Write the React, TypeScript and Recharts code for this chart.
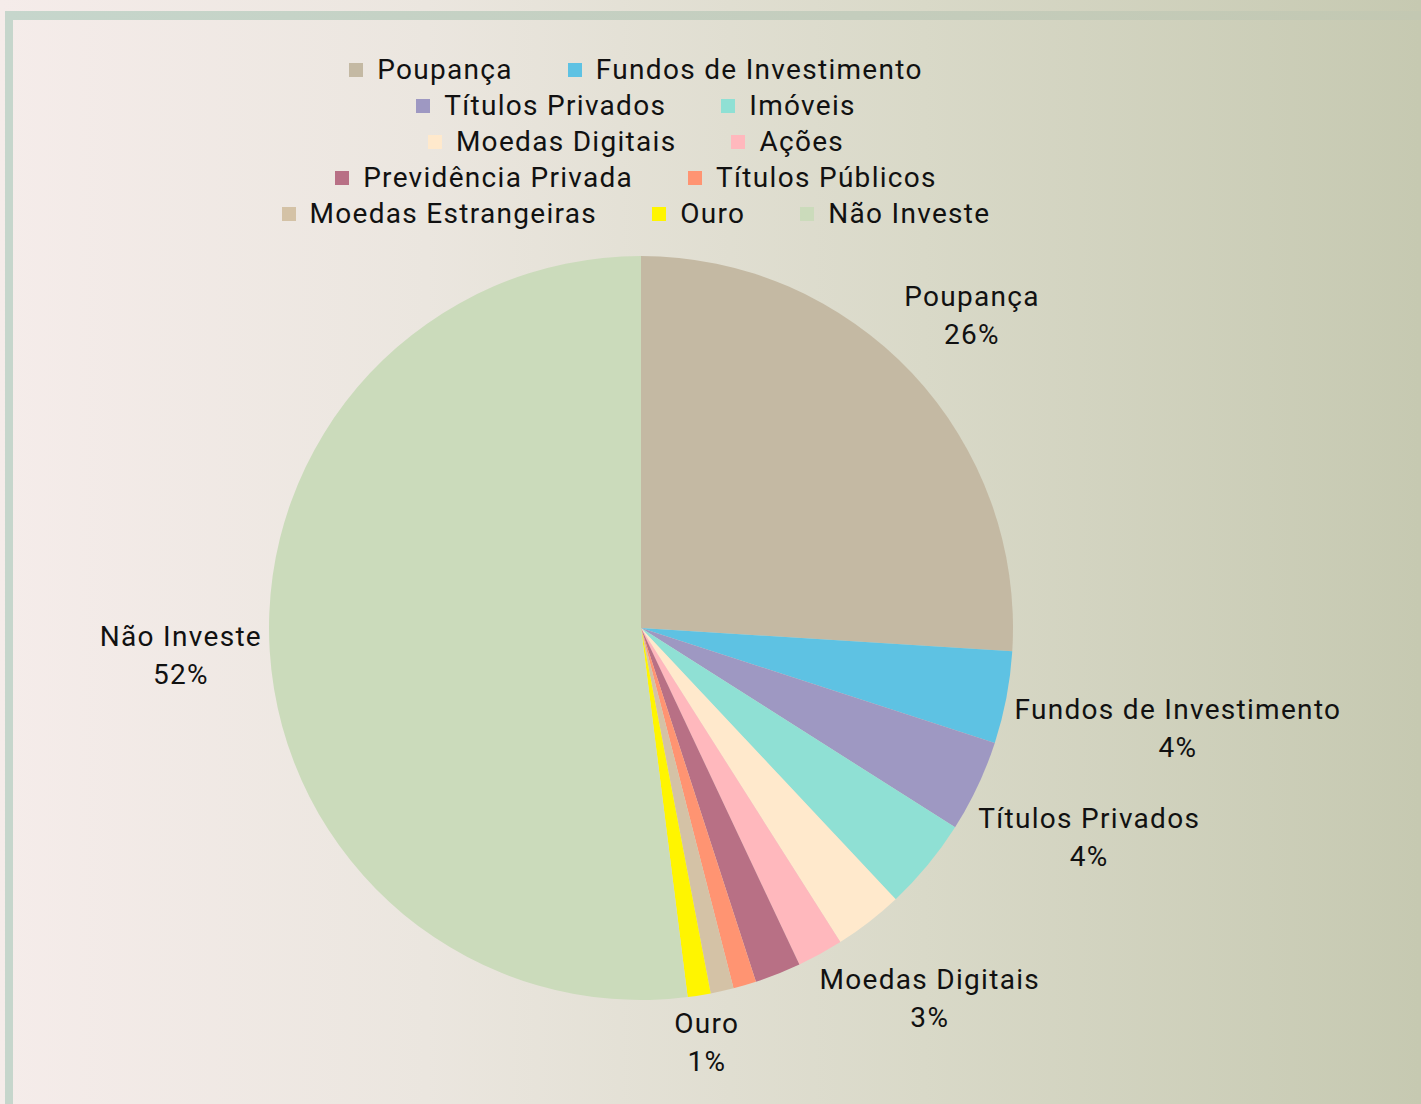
import { Legend, Pie, PieChart, Cell } from "recharts"

const categories = [
  "Poupança",
  "Fundos de Investimento",
  "Títulos Privados",
  "Imóveis",
  "Moedas Digitais",
  "Ações",
  "Previdência Privada",
  "Títulos Públicos",
  "Moedas Estrangeiras",
  "Ouro",
  "Não Investe",
]

const shares = [26, 4, 4, 4, 3, 2, 2, 1, 1, 1, 52]

const colors = [
  "#c4b9a3",
  "#5ec2e3",
  "#9e98c2",
  "#8fe0d4",
  "#ffe9cc",
  "#ffb8bd",
  "#b87085",
  "#ff9472",
  "#d4c2a6",
  "#fff500",
  "#cbdbbb",
]

// only these slices carry a data label in the original
const labelled = ["Poupança", "Fundos de Investimento", "Títulos Privados", "Moedas Digitais", "Ouro", "Não Investe"]

const data = categories.map((name, i) => ({ name, value: shares[i] }))

const FONT = "Roboto, 'Noto Sans', sans-serif"
const FONT_SIZE = 28
const SPACING = 1.3
const LINE = 38

let ctx: CanvasRenderingContext2D | null = null
function textWidth(s: string) {
  if (!ctx) ctx = document.createElement("canvas").getContext("2d")
  if (!ctx) return s.length * (FONT_SIZE * 0.55 + SPACING)
  ctx.font = `${FONT_SIZE}px ${FONT}`
  return ctx.measureText(s).width + s.length * SPACING
}

const RADIAN = Math.PI / 180

// place the label box on the slice's mid ray so its nearest point sits just outside the pie
function renderLabel(props: any) {
  const { cx, cy, midAngle, outerRadius, name, percent } = props
  if (!labelled.includes(name)) return null
  const pct = `${Math.round(percent * 100)}%`
  const w = Math.max(textWidth(name), textWidth(pct))
  const h = LINE * 2
  const ux = Math.cos(-midAngle * RADIAN)
  const uy = Math.sin(-midAngle * RADIAN)
  const target = outerRadius + 7
  const dist = (t: number) => {
    const ex = Math.max(0, Math.abs(t * ux) - w / 2)
    const ey = Math.max(0, Math.abs(t * uy) - h / 2)
    return Math.sqrt(ex * ex + ey * ey)
  }
  let lo = 0
  let hi = target + w + h
  for (let k = 0; k < 40; k++) {
    const mid = (lo + hi) / 2
    if (dist(mid) < target) lo = mid
    else hi = mid
  }
  const x = cx + lo * ux
  const y = cy + lo * uy
  return (
    <text
      x={x}
      y={y}
      textAnchor="middle"
      fill="#111"
      fontSize={FONT_SIZE}
      fontFamily={FONT}
      letterSpacing={SPACING}
    >
      <tspan x={x} dy={-11}>{name}</tspan>
      <tspan x={x} dy={LINE}>{pct}</tspan>
    </text>
  )
}

const legendRows = [
  [0, 1],
  [2, 3],
  [4, 5],
  [6, 7],
  [8, 9, 10],
]

function LegendContent() {
  return (
    <div
      style={{
        fontFamily: FONT,
        fontSize: FONT_SIZE,
        letterSpacing: SPACING,
        color: "#111",
        lineHeight: "36px",
      }}
    >
      {legendRows.map((row, ri) => (
        <div key={ri} style={{ display: "flex", justifyContent: "center", gap: 55 }}>
          {row.map((i) => (
            <div key={i} style={{ display: "flex", alignItems: "center" }}>
              <span style={{ width: 14, height: 14, background: colors[i], marginRight: 14, display: "inline-block" }} />
              <span>{categories[i]}</span>
            </div>
          ))}
        </div>
      ))}
    </div>
  )
}

export default function App() {
  return (
    <div
      style={{
        position: "absolute",
        left: 0,
        top: 0,
        width: 1421,
        height: 1104,
        overflow: "hidden",
        background: "linear-gradient(to right, #f5ecea 0%, #ebe6df 30%, #d9d9c8 65%, #c6c9b1 100%)",
      }}
    >
      <div
        style={{
          position: "absolute",
          left: 5,
          top: 11,
          width: 1416,
          height: 9,
          background: "linear-gradient(to right, #c6d6cc, #c4cdbd 60%, #c3c8b2)",
        }}
      />
      <div style={{ position: "absolute", left: 5, top: 11, width: 8, height: 1093, background: "#c6d6cc" }} />
      <div style={{ position: "absolute", left: 0, top: 0 }}>
        <PieChart width={1421} height={1104} margin={{ top: 0, right: 0, bottom: 0, left: 0 }}>
          <Legend
            verticalAlign="middle"
            layout="horizontal"
            content={<LegendContent />}
            wrapperStyle={{ top: 52, left: 0, width: 1272 }}
          />
          <Pie
            data={data}
            dataKey="value"
            nameKey="name"
            cx={641}
            cy={628}
            outerRadius={372}
            startAngle={90}
            endAngle={-270}
            stroke="none"
            labelLine={false}
            label={renderLabel}
            isAnimationActive={false}
          >
            {data.map((d, i) => (
              <Cell key={d.name} fill={colors[i]} />
            ))}
          </Pie>
        </PieChart>
      </div>
    </div>
  )
}
